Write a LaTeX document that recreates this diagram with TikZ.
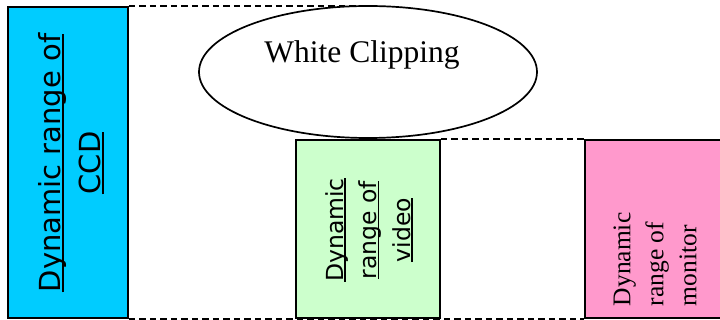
\documentclass[tikz,border=0pt]{standalone}
\usepackage{fontspec}
\setmainfont{Liberation Serif}
\newfontfamily\sansdv{DejaVu Sans}
\usetikzlibrary{shapes.geometric}
\definecolor{ccdblue}{HTML}{00CCFF}
\definecolor{videogreen}{HTML}{CCFFCC}
\definecolor{monitorpink}{HTML}{FF99CC}
% sublinhado a altura fixa
\newcommand{\uln}[1]{\setbox0\hbox{#1}\rlap{\rule[-0.11em]{\wd0}{0.07em}}\box0}

\begin{document}
\begin{tikzpicture}[x=1pt,y=-1pt,line width=1.7pt,
    rangebox/.style={draw,rectangle,inner sep=0pt},
    guide/.style={dash pattern=on 6.5pt off 4pt,line width=1.6pt}]
    \useasboundingbox (0,0) rectangle (720,320);
    % Faixas
    \node[rangebox,fill=ccdblue,minimum width=120pt,minimum height=311pt] (ccd) at (68,162.5) {};
    \node[rangebox,fill=videogreen,minimum width=144pt,minimum height=178pt] (video) at (368,229) {};
    \node[rangebox,fill=monitorpink,minimum width=140pt,minimum height=178pt] (monitor) at (655,229) {};
    % Elipse
    \node[draw,ellipse,minimum width=338pt,minimum height=132pt] (clip) at (368,72) {};
    \node[font=\fontsize{31.5}{36}\selectfont] (cliptxt) at (362,55) {White Clipping};
    % Textos
    \node[rotate=90,align=center,font=\sansdv\fontsize{29}{40}\selectfont] (ccdtxt) at (71,163)
        {\uln{Dynamic range of}\\\uln{CCD}};
    \node[rotate=90,align=center,font=\sansdv\fontsize{23.5}{33.5}\selectfont] (videotxt) at (369,230)
        {\uln{Dynamic}\\\uln{range of}\\\uln{video}};
    \node[rotate=90,anchor=west,align=left,inner sep=0pt,font=\rmfamily\fontsize{25.5}{33}\selectfont] (monitortxt) at (655,307)
        {Dynamic\\range of\\monitor};
    % Linhas tracejadas
    \draw[guide] (ccd.north east) -- (ccd.north east -| clip.north);
    \draw[guide] (ccd.south east) -- (monitor.south west);
    \draw[guide] (video.north east) -- (monitor.north west);
\end{tikzpicture}
\end{document}
